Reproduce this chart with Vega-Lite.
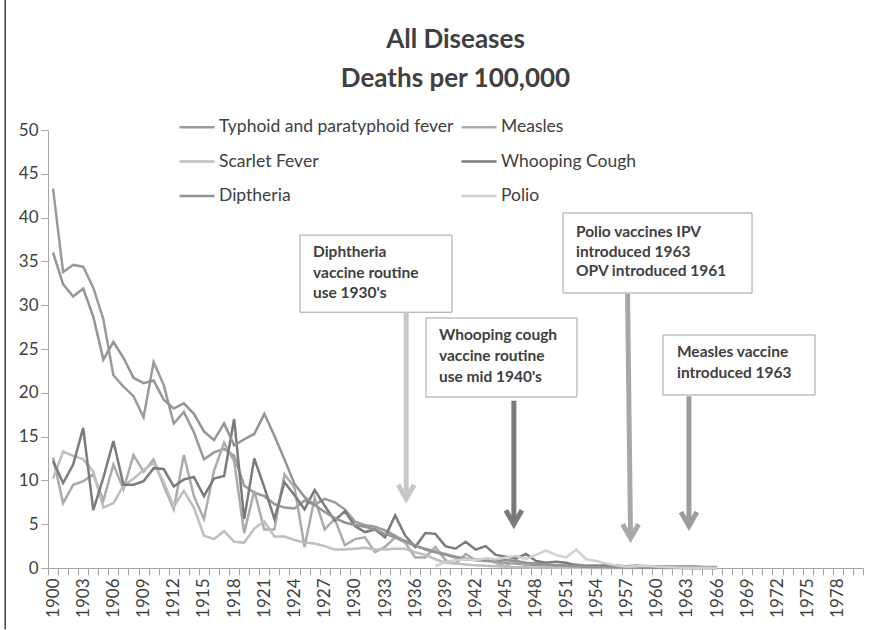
{
  "$schema": "https://vega.github.io/schema/vega-lite/v6.json",
  "width": 815,
  "height": 438,
  "autosize": {"type": "none"},
  "padding": {"left": 48, "top": 130, "right": 26, "bottom": 62},
  "background": "white",
  "title": {"text": ["All Diseases", "Deaths per 100,000"], "fontSize": 26, "font": "Lato", "fontWeight": "bold", "color": "#404040", "anchor": "middle", "lineHeight": 39, "offset": -94},
  "config": {
    "view": {"stroke": null},
    "font": "Lato",
    "axis": {"labelFont": "Lato", "labelColor": "#404040", "domainColor": "#a6a6a6", "tickColor": "#a6a6a6", "grid": false, "title": null}
  },
  "datasets": {
    "rates": [
      {"year":1900,"Typhoid and paratyphoid fever":43.3,"Measles":12.6,"Scarlet Fever":10.2,"Whooping Cough":12.2,"Diptheria":36.0},
      {"year":1901,"Typhoid and paratyphoid fever":33.8,"Measles":7.4,"Scarlet Fever":13.3,"Whooping Cough":9.7,"Diptheria":32.4},
      {"year":1902,"Typhoid and paratyphoid fever":34.6,"Measles":9.5,"Scarlet Fever":12.8,"Whooping Cough":11.8,"Diptheria":31.0},
      {"year":1903,"Typhoid and paratyphoid fever":34.4,"Measles":9.9,"Scarlet Fever":12.4,"Whooping Cough":16.0,"Diptheria":31.9},
      {"year":1904,"Typhoid and paratyphoid fever":32.0,"Measles":10.7,"Scarlet Fever":11.0,"Whooping Cough":6.6,"Diptheria":28.7},
      {"year":1905,"Typhoid and paratyphoid fever":28.4,"Measles":7.7,"Scarlet Fever":6.9,"Whooping Cough":10.3,"Diptheria":23.8},
      {"year":1906,"Typhoid and paratyphoid fever":22.0,"Measles":11.8,"Scarlet Fever":7.4,"Whooping Cough":14.5,"Diptheria":25.8},
      {"year":1907,"Typhoid and paratyphoid fever":20.7,"Measles":9.0,"Scarlet Fever":9.4,"Whooping Cough":9.5,"Diptheria":24.0},
      {"year":1908,"Typhoid and paratyphoid fever":19.6,"Measles":12.9,"Scarlet Fever":10.2,"Whooping Cough":9.5,"Diptheria":21.7},
      {"year":1909,"Typhoid and paratyphoid fever":17.2,"Measles":11.0,"Scarlet Fever":11.2,"Whooping Cough":9.9,"Diptheria":21.1},
      {"year":1910,"Typhoid and paratyphoid fever":23.5,"Measles":12.4,"Scarlet Fever":12.0,"Whooping Cough":11.4,"Diptheria":21.4},
      {"year":1911,"Typhoid and paratyphoid fever":20.9,"Measles":9.4,"Scarlet Fever":9.8,"Whooping Cough":11.3,"Diptheria":19.2},
      {"year":1912,"Typhoid and paratyphoid fever":16.5,"Measles":6.7,"Scarlet Fever":7.0,"Whooping Cough":9.3,"Diptheria":18.2},
      {"year":1913,"Typhoid and paratyphoid fever":17.8,"Measles":12.9,"Scarlet Fever":8.8,"Whooping Cough":10.1,"Diptheria":18.8},
      {"year":1914,"Typhoid and paratyphoid fever":15.5,"Measles":8.2,"Scarlet Fever":6.9,"Whooping Cough":10.4,"Diptheria":17.6},
      {"year":1915,"Typhoid and paratyphoid fever":12.4,"Measles":5.6,"Scarlet Fever":3.7,"Whooping Cough":8.2,"Diptheria":15.6},
      {"year":1916,"Typhoid and paratyphoid fever":13.2,"Measles":11.1,"Scarlet Fever":3.3,"Whooping Cough":10.2,"Diptheria":14.6},
      {"year":1917,"Typhoid and paratyphoid fever":13.6,"Measles":14.3,"Scarlet Fever":4.2,"Whooping Cough":10.5,"Diptheria":16.5},
      {"year":1918,"Typhoid and paratyphoid fever":12.8,"Measles":12.2,"Scarlet Fever":3.0,"Whooping Cough":17.0,"Diptheria":14.0},
      {"year":1919,"Typhoid and paratyphoid fever":9.4,"Measles":4.0,"Scarlet Fever":2.9,"Whooping Cough":5.6,"Diptheria":14.7},
      {"year":1920,"Typhoid and paratyphoid fever":8.6,"Measles":8.8,"Scarlet Fever":4.5,"Whooping Cough":12.5,"Diptheria":15.3},
      {"year":1921,"Typhoid and paratyphoid fever":8.2,"Measles":4.4,"Scarlet Fever":5.3,"Whooping Cough":9.2,"Diptheria":17.6},
      {"year":1922,"Typhoid and paratyphoid fever":7.3,"Measles":4.4,"Scarlet Fever":3.6,"Whooping Cough":5.6,"Diptheria":15.1},
      {"year":1923,"Typhoid and paratyphoid fever":6.9,"Measles":10.7,"Scarlet Fever":3.6,"Whooping Cough":9.8,"Diptheria":12.4},
      {"year":1924,"Typhoid and paratyphoid fever":6.8,"Measles":9.2,"Scarlet Fever":3.2,"Whooping Cough":8.3,"Diptheria":9.6},
      {"year":1925,"Typhoid and paratyphoid fever":7.7,"Measles":2.4,"Scarlet Fever":2.9,"Whooping Cough":6.7,"Diptheria":8.1},
      {"year":1926,"Typhoid and paratyphoid fever":7.2,"Measles":8.0,"Scarlet Fever":2.8,"Whooping Cough":8.9,"Diptheria":7.2},
      {"year":1927,"Typhoid and paratyphoid fever":7.9,"Measles":4.4,"Scarlet Fever":2.5,"Whooping Cough":7.1,"Diptheria":6.4},
      {"year":1928,"Typhoid and paratyphoid fever":7.5,"Measles":5.6,"Scarlet Fever":2.1,"Whooping Cough":5.4,"Diptheria":5.7},
      {"year":1929,"Typhoid and paratyphoid fever":6.7,"Measles":2.6,"Scarlet Fever":2.1,"Whooping Cough":6.5,"Diptheria":5.2},
      {"year":1930,"Typhoid and paratyphoid fever":5.3,"Measles":3.3,"Scarlet Fever":2.2,"Whooping Cough":4.8,"Diptheria":4.9},
      {"year":1931,"Typhoid and paratyphoid fever":4.9,"Measles":3.5,"Scarlet Fever":2.3,"Whooping Cough":4.1,"Diptheria":4.7},
      {"year":1932,"Typhoid and paratyphoid fever":4.7,"Measles":1.8,"Scarlet Fever":2.1,"Whooping Cough":4.4,"Diptheria":4.4},
      {"year":1933,"Typhoid and paratyphoid fever":4.3,"Measles":2.4,"Scarlet Fever":2.1,"Whooping Cough":3.5,"Diptheria":3.9},
      {"year":1934,"Typhoid and paratyphoid fever":3.7,"Measles":3.5,"Scarlet Fever":2.2,"Whooping Cough":6.0,"Diptheria":3.5},
      {"year":1935,"Typhoid and paratyphoid fever":3.0,"Measles":2.9,"Scarlet Fever":2.2,"Whooping Cough":3.7,"Diptheria":3.1},
      {"year":1936,"Typhoid and paratyphoid fever":2.5,"Measles":1.2,"Scarlet Fever":1.8,"Whooping Cough":2.4,"Diptheria":2.6},
      {"year":1937,"Typhoid and paratyphoid fever":2.2,"Measles":1.2,"Scarlet Fever":1.5,"Whooping Cough":4.0,"Diptheria":2.1},
      {"year":1938,"Typhoid and paratyphoid fever":1.9,"Measles":2.4,"Scarlet Fever":1.0,"Whooping Cough":3.9,"Diptheria":1.8,"Polio":0.2},
      {"year":1939,"Typhoid and paratyphoid fever":1.6,"Measles":0.9,"Scarlet Fever":0.6,"Whooping Cough":2.5,"Diptheria":1.5,"Polio":0.7},
      {"year":1940,"Typhoid and paratyphoid fever":1.3,"Measles":0.5,"Scarlet Fever":0.5,"Whooping Cough":2.2,"Diptheria":1.2,"Polio":0.9},
      {"year":1941,"Typhoid and paratyphoid fever":1.1,"Measles":1.6,"Scarlet Fever":0.4,"Whooping Cough":3.0,"Diptheria":1.0,"Polio":1.0},
      {"year":1942,"Typhoid and paratyphoid fever":0.9,"Measles":0.9,"Scarlet Fever":0.3,"Whooping Cough":2.1,"Diptheria":0.9,"Polio":0.9},
      {"year":1943,"Typhoid and paratyphoid fever":0.8,"Measles":1.0,"Scarlet Fever":0.25,"Whooping Cough":2.5,"Diptheria":0.9,"Polio":1.1},
      {"year":1944,"Typhoid and paratyphoid fever":0.7,"Measles":0.6,"Scarlet Fever":0.2,"Whooping Cough":1.5,"Diptheria":0.9,"Polio":1.0},
      {"year":1945,"Typhoid and paratyphoid fever":0.6,"Measles":0.2,"Scarlet Fever":0.15,"Whooping Cough":1.3,"Diptheria":0.9,"Polio":1.2},
      {"year":1946,"Typhoid and paratyphoid fever":0.5,"Measles":0.9,"Scarlet Fever":0.1,"Whooping Cough":1.1,"Diptheria":0.8,"Polio":1.4},
      {"year":1947,"Typhoid and paratyphoid fever":0.4,"Measles":0.3,"Scarlet Fever":0.08,"Whooping Cough":1.6,"Diptheria":0.6,"Polio":1.0},
      {"year":1948,"Typhoid and paratyphoid fever":0.3,"Measles":0.6,"Scarlet Fever":0.06,"Whooping Cough":0.8,"Diptheria":0.5,"Polio":1.5},
      {"year":1949,"Typhoid and paratyphoid fever":0.25,"Measles":0.3,"Scarlet Fever":0.05,"Whooping Cough":0.6,"Diptheria":0.4,"Polio":2.0},
      {"year":1950,"Typhoid and paratyphoid fever":0.2,"Measles":0.3,"Scarlet Fever":0.04,"Whooping Cough":0.7,"Diptheria":0.3,"Polio":1.5},
      {"year":1951,"Typhoid and paratyphoid fever":0.15,"Measles":0.4,"Scarlet Fever":0.03,"Whooping Cough":0.6,"Diptheria":0.25,"Polio":1.2},
      {"year":1952,"Typhoid and paratyphoid fever":0.1,"Measles":0.4,"Scarlet Fever":0.02,"Whooping Cough":0.3,"Diptheria":0.2,"Polio":2.1},
      {"year":1953,"Typhoid and paratyphoid fever":0.1,"Measles":0.3,"Scarlet Fever":0.02,"Whooping Cough":0.2,"Diptheria":0.15,"Polio":1.0},
      {"year":1954,"Typhoid and paratyphoid fever":0.08,"Measles":0.3,"Scarlet Fever":0.01,"Whooping Cough":0.2,"Diptheria":0.1,"Polio":0.8},
      {"year":1955,"Typhoid and paratyphoid fever":0.06,"Measles":0.2,"Scarlet Fever":0.01,"Whooping Cough":0.3,"Diptheria":0.1,"Polio":0.5},
      {"year":1956,"Typhoid and paratyphoid fever":0.05,"Measles":0.3,"Scarlet Fever":0.01,"Whooping Cough":0.2,"Diptheria":0.06,"Polio":0.3},
      {"year":1957,"Typhoid and paratyphoid fever":0.04,"Measles":0.2,"Scarlet Fever":0.01,"Whooping Cough":0.2,"Diptheria":0.05,"Polio":0.15},
      {"year":1958,"Typhoid and paratyphoid fever":0.03,"Measles":0.3,"Scarlet Fever":0.01,"Whooping Cough":0.1,"Diptheria":0.04,"Polio":0.2},
      {"year":1959,"Typhoid and paratyphoid fever":0.03,"Measles":0.2,"Scarlet Fever":0.01,"Whooping Cough":0.1,"Diptheria":0.03,"Polio":0.25},
      {"year":1960,"Typhoid and paratyphoid fever":0.02,"Measles":0.2,"Scarlet Fever":0.01,"Whooping Cough":0.1,"Diptheria":0.03,"Polio":0.15},
      {"year":1961,"Typhoid and paratyphoid fever":0.02,"Measles":0.2,"Scarlet Fever":0.01,"Whooping Cough":0.1,"Diptheria":0.02,"Polio":0.1},
      {"year":1962,"Typhoid and paratyphoid fever":0.02,"Measles":0.2,"Scarlet Fever":0.01,"Whooping Cough":0.05,"Diptheria":0.02,"Polio":0.05},
      {"year":1963,"Typhoid and paratyphoid fever":0.01,"Measles":0.2,"Scarlet Fever":0.01,"Whooping Cough":0.06,"Diptheria":0.01,"Polio":0.03},
      {"year":1964,"Typhoid and paratyphoid fever":0.01,"Measles":0.2,"Scarlet Fever":0.01,"Whooping Cough":0.05,"Diptheria":0.01,"Polio":0.02},
      {"year":1965,"Typhoid and paratyphoid fever":0.01,"Measles":0.1,"Scarlet Fever":0.01,"Whooping Cough":0.04,"Diptheria":0.01,"Polio":0.01},
      {"year":1966,"Typhoid and paratyphoid fever":0.01,"Measles":0.1,"Scarlet Fever":0.01,"Whooping Cough":0.03,"Diptheria":0.01,"Polio":0.01}
    ],
    "boxes": [
      {"box":"Diphtheria","x1":1924.54,"x2":1939.65,"y1":38.0,"y2":29.2},
      {"box":"Whooping","x1":1937.07,"x2":1952.07,"y1":28.54,"y2":19.52},
      {"box":"Polio","x1":1950.68,"x2":1969.47,"y1":40.53,"y2":31.39},
      {"box":"Measles","x1":1960.62,"x2":1975.73,"y1":26.6,"y2":19.75}
    ],
    "notes": [
      {"x":1925.84,"y":36.07,"t":"Diphtheria"},
      {"x":1925.84,"y":33.68,"t":"vaccine routine"},
      {"x":1925.84,"y":31.39,"t":"use 1930's"},
      {"x":1938.36,"y":26.6,"t":"Whooping cough"},
      {"x":1938.36,"y":24.2,"t":"vaccine routine"},
      {"x":1938.36,"y":21.8,"t":"use mid 1940's"},
      {"x":1951.97,"y":38.36,"t":"Polio vaccines IPV"},
      {"x":1951.97,"y":36.07,"t":"introduced 1963"},
      {"x":1951.97,"y":33.9,"t":"OPV introduced 1961"},
      {"x":1962.01,"y":24.66,"t":"Measles vaccine"},
      {"x":1962.01,"y":22.26,"t":"introduced 1963"}
    ],
    "arrows": [
      {"a":"Diphtheria","x":1935.1,"xb":1935.1,"top":29.2,"tip":7.9},
      {"a":"Whooping","x":1945.8,"xb":1945.8,"top":19.1,"tip":5.0},
      {"a":"Polio","x":1957.1,"xb":1957.4,"top":31.3,"tip":3.4},
      {"a":"Measles","x":1963.2,"xb":1963.2,"top":19.6,"tip":4.8}
    ],
    "frame": [
      {"x":1895.25,"top":65,"bottom":-7}
    ]
  },
  "resolve": {"axis": {"x": "independent"}},
  "layer": [
    {
      "data": {"name": "rates"},
      "transform": [{"fold": ["Typhoid and paratyphoid fever", "Measles", "Scarlet Fever", "Whooping Cough", "Diptheria", "Polio"], "as": ["disease", "rate"]}],
      "mark": {"type": "line", "strokeWidth": 2.5},
      "encoding": {
        "x": {"field": "year", "type": "quantitative", "scale": {"domain": [1899.5, 1980.5], "nice": false, "zero": false},
              "axis": {"orient": "bottom", "values": [1900,1903,1906,1909,1912,1915,1918,1921,1924,1927,1930,1933,1936,1939,1942,1945,1948,1951,1954,1957,1960,1963,1966,1969,1972,1975,1978],
                       "format": "d", "labelAngle": 270, "ticks": false, "labelPadding": 10, "labelFontSize": 17, "labelOverlap": false, "labelFlush": false, "domain": true}},
        "y": {"field": "rate", "type": "quantitative", "scale": {"domain": [0, 50], "nice": false},
              "axis": {"orient": "left", "values": [0,5,10,15,20,25,30,35,40,45,50], "tickSize": 7, "labelPadding": 3, "labelFontSize": 17, "domain": true, "ticks": true, "labels": true}},
        "color": {"field": "disease", "type": "nominal",
                  "scale": {"domain": ["Typhoid and paratyphoid fever", "Scarlet Fever", "Diptheria", "Measles", "Whooping Cough", "Polio"],
                            "range": ["#9a9a9a", "#bebebe", "#949494", "#ababab", "#7b7b7b", "#d0d0d0"]},
                  "legend": {"orient": "none", "legendX": 130, "legendY": -22, "columns": 2, "symbolType": "stroke", "symbolSize": 1225, "symbolStrokeWidth": 2.5,
                             "labelFontSize": 17.5, "labelFont": "Lato", "labelColor": "#404040", "columnPadding": 2, "rowPadding": 6.5, "labelOffset": 3, "labelLimit": 400, "title": null}}
      }
    },
    {
      "data": {"name": "boxes"},
      "mark": {"type": "rect", "fill": "white", "stroke": "#a0a0a0", "strokeWidth": 1},
      "encoding": {
        "x": {"field": "x1", "type": "quantitative", "scale": {"domain": [1899.5, 1980.5], "nice": false, "zero": false},
              "axis": {"orient": "bottom", "values": [1899.5,1900.5,1901.5,1902.5,1903.5,1904.5,1905.5,1906.5,1907.5,1908.5,1909.5,1910.5,1911.5,1912.5,1913.5,1914.5,1915.5,1916.5,1917.5,1918.5,1919.5,1920.5,1921.5,1922.5,1923.5,1924.5,1925.5,1926.5,1927.5,1928.5,1929.5,1930.5,1931.5,1932.5,1933.5,1934.5,1935.5,1936.5,1937.5,1938.5,1939.5,1940.5,1941.5,1942.5,1943.5,1944.5,1945.5,1946.5,1947.5,1948.5,1949.5,1950.5,1951.5,1952.5,1953.5,1954.5,1955.5,1956.5,1957.5,1958.5,1959.5,1960.5,1961.5,1962.5,1963.5,1964.5,1965.5,1966.5,1967.5,1968.5,1969.5,1970.5,1971.5,1972.5,1973.5,1974.5,1975.5,1976.5,1977.5,1978.5,1979.5,1980.5],
                       "labels": false, "ticks": true, "tickSize": 7, "domain": false}},
        "x2": {"field": "x2"},
        "y": {"field": "y1", "type": "quantitative"},
        "y2": {"field": "y2"}
      }
    },
    {
      "data": {"name": "notes"},
      "mark": {"type": "text", "align": "left", "baseline": "middle", "font": "Lato", "fontWeight": "bold", "fontSize": 15.5, "color": "#404040"},
      "encoding": {
        "x": {"field": "x", "type": "quantitative", "axis": null},
        "y": {"field": "y", "type": "quantitative"},
        "text": {"field": "t"}
      }
    },
    {
      "data": {"name": "arrows"},
      "mark": {"type": "rule", "strokeWidth": 5},
      "encoding": {
        "x": {"field": "x", "type": "quantitative", "axis": null},
        "x2": {"field": "xb"},
        "y": {"field": "top", "type": "quantitative"},
        "y2": {"field": "tip"},
        "stroke": {"field": "a", "type": "nominal", "scale": {"domain": ["Diphtheria", "Whooping", "Polio", "Measles"], "range": ["#c8c8c8", "#7a7a7a", "#a8a8a8", "#9c9c9c"]}, "legend": null}
      }
    },
    {
      "data": {"name": "arrows"},
      "mark": {"type": "point", "shape": "M-1,-1.75L0,0L1,-1.75", "filled": false, "strokeWidth": 5, "size": 256, "opacity": 1},
      "encoding": {
        "x": {"field": "xb", "type": "quantitative", "axis": null},
        "y": {"field": "tip", "type": "quantitative"},
        "stroke": {"field": "a", "type": "nominal", "legend": null}
      }
    },
    {
      "data": {"name": "frame"},
      "mark": {"type": "rule", "color": "#404040", "strokeWidth": 1.5},
      "encoding": {
        "x": {"field": "x", "type": "quantitative", "axis": null},
        "y": {"field": "top", "type": "quantitative"},
        "y2": {"field": "bottom"}
      }
    }
  ]
}
